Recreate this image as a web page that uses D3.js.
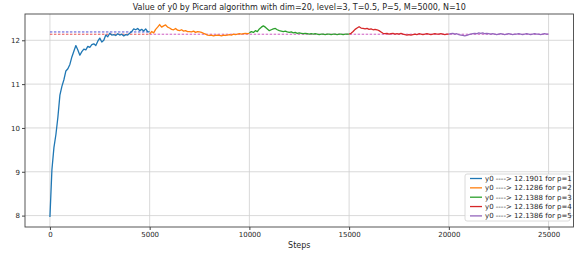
<!DOCTYPE html>
<html>
<head>
<meta charset="utf-8">
<script src="https://cdn.jsdelivr.net/npm/d3@7"></script>
<style>
  body { margin: 0; background: #fff; }
  text { font-family: "DejaVu Sans", sans-serif; fill: #262626; }
</style>
</head>
<body>
<div id="chart"></div>
<script>
// values, one reading every 100 steps
const STEP = 100;
const SEG = 5000;

const y_p1 = [7.97, 9.05, 9.55, 9.85, 10.25, 10.75, 10.95, 11.1, 11.3, 11.35,
  11.45, 11.62, 11.75, 11.88, 11.78, 11.66, 11.74, 11.80, 11.78, 11.86,
  11.84, 11.90, 11.92, 11.88, 11.98, 12.05, 11.96, 12.0, 12.12, 12.08,
  12.16, 12.12, 12.13, 12.11, 12.15, 12.12, 12.14, 12.10, 12.13, 12.12,
  12.16, 12.20, 12.26, 12.24, 12.27, 12.22, 12.25, 12.21, 12.26, 12.20, 12.19];
const y_p2 = [12.14, 12.20, 12.17, 12.25, 12.30, 12.36, 12.30, 12.33, 12.35, 12.30,
  12.28, 12.25, 12.24, 12.27, 12.23, 12.22, 12.24, 12.21, 12.22, 12.20,
  12.20, 12.19, 12.21, 12.18, 12.20, 12.19, 12.18, 12.16, 12.14, 12.12,
  12.11, 12.12, 12.10, 12.11, 12.12, 12.11, 12.10, 12.12, 12.11, 12.12,
  12.13, 12.12, 12.14, 12.13, 12.14, 12.15, 12.14, 12.15, 12.16, 12.15, 12.16];
const y_p3 = [12.17, 12.20, 12.18, 12.22, 12.20, 12.26, 12.30, 12.33, 12.30, 12.26,
  12.22, 12.24, 12.26, 12.27, 12.24, 12.22, 12.21, 12.20, 12.21, 12.19,
  12.18, 12.19, 12.17, 12.18, 12.16, 12.17, 12.16, 12.15, 12.16, 12.15,
  12.14, 12.15, 12.14, 12.15, 12.14, 12.13, 12.14, 12.14, 12.13, 12.14,
  12.14, 12.13, 12.14, 12.14, 12.13, 12.14, 12.14, 12.13, 12.14, 12.14, 12.14];
const y_p4 = [12.14, 12.16, 12.20, 12.25, 12.28, 12.31, 12.28, 12.27, 12.26, 12.27,
  12.25, 12.26, 12.24, 12.25, 12.24, 12.22, 12.19, 12.16, 12.15, 12.16,
  12.14, 12.15, 12.16, 12.14, 12.15, 12.14, 12.16, 12.14, 12.13, 12.12,
  12.13, 12.12, 12.13, 12.14, 12.13, 12.15, 12.14, 12.13, 12.14, 12.15,
  12.14, 12.13, 12.14, 12.15, 12.14, 12.14, 12.15, 12.14, 12.13, 12.14, 12.14];
const y_p5 = [12.14, 12.15, 12.16, 12.14, 12.15, 12.13, 12.12, 12.11, 12.10, 12.11,
  12.13, 12.14, 12.15, 12.16, 12.15, 12.17, 12.16, 12.17, 12.15, 12.16,
  12.15, 12.14, 12.15, 12.14, 12.13, 12.14, 12.15, 12.14, 12.13, 12.14,
  12.15, 12.14, 12.13, 12.14, 12.14, 12.15, 12.14, 12.13, 12.14, 12.15,
  12.14, 12.13, 12.14, 12.15, 12.14, 12.14, 12.13, 12.14, 12.15, 12.14, 12.14];

const series = [y_p1, y_p2, y_p3, y_p4, y_p5];
const limits = ["12.1901", "12.1286", "12.1388", "12.1386", "12.1386"];
const colors = ["#1f77b4", "#ff7f0e", "#2ca02c", "#d62728", "#9467bd"];

// dashed reference lines: [value, from step, to step, colour]
const refLines = [
  [12.1901, 0, 5000, "#2222cc"],
  [12.1386, 0, 5000, "#e02020"],
  [12.1386, 5000, 25000, "#c030b0"]
];

const xTicks = [0, 5000, 10000, 15000, 20000, 25000];
const yTicks = [8, 9, 10, 11, 12];

const W = 574, H = 255;
const m = {left: 25, right: 0.5, top: 14, bottom: 28};

const svg = d3.select("#chart").append("svg")
  .attr("width", W)
  .attr("height", H);

const x = d3.scaleLinear()
  .domain([-1250, 26250])
  .range([m.left, W - m.right]);
const y = d3.scaleLinear()
  .domain([7.74, 12.6])
  .range([H - m.bottom, m.top]);

// grid
svg.append("g").selectAll("line")
  .data(xTicks).enter().append("line")
  .attr("x1", d => x(d)).attr("x2", d => x(d))
  .attr("y1", m.top).attr("y2", H - m.bottom)
  .attr("stroke", "#cfcfcf").attr("stroke-width", 0.8);
svg.append("g").selectAll("line")
  .data(yTicks).enter().append("line")
  .attr("x1", m.left).attr("x2", W - m.right)
  .attr("y1", d => y(d)).attr("y2", d => y(d))
  .attr("stroke", "#cfcfcf").attr("stroke-width", 0.8);

// axes
const xAxis = svg.append("g")
  .attr("transform", "translate(0," + (H - m.bottom) + ")")
  .call(d3.axisBottom(x).tickValues(xTicks).tickSize(3).tickPadding(2).tickFormat(d3.format("d")));
const yAxis = svg.append("g")
  .attr("transform", "translate(" + m.left + ",0)")
  .call(d3.axisLeft(y).tickValues(yTicks).tickSize(3).tickPadding(2).tickFormat(d3.format("d")));
[xAxis, yAxis].forEach(a => {
  a.select(".domain").remove();
  a.selectAll("line").attr("stroke", "#444");
  a.selectAll("text").style("font-size", "7px").attr("fill", "#262626")
    .style("font-family", "DejaVu Sans, sans-serif");
});

// dashed lines
svg.append("g").selectAll("line")
  .data(refLines).enter().append("line")
  .attr("x1", d => x(d[1])).attr("x2", d => x(d[2]))
  .attr("y1", d => y(d[0])).attr("y2", d => y(d[0]))
  .attr("stroke", d => d[3])
  .attr("stroke-width", 0.8)
  .attr("stroke-dasharray", "2.5,1.5");

// series
const line = d3.line()
  .x(d => x(d.s))
  .y(d => y(d.v));

series.forEach((vals, p) => {
  const pts = vals.map((v, i) => ({s: p * SEG + i * STEP, v: v}));
  svg.append("path")
    .datum(pts)
    .attr("fill", "none")
    .attr("stroke", colors[p])
    .attr("stroke-width", 1.3)
    .attr("stroke-linejoin", "round")
    .attr("d", line);
});

// frame
svg.append("rect")
  .attr("x", m.left).attr("y", m.top)
  .attr("width", W - m.right - m.left).attr("height", H - m.bottom - m.top)
  .attr("fill", "none").attr("stroke", "#444").attr("stroke-width", 0.9);

// title and label
svg.append("text")
  .attr("x", (m.left + W - m.right) / 2).attr("y", 10)
  .attr("text-anchor", "middle")
  .style("font-size", "8px")
  .text("Value of y0 by Picard algorithm with dim=20, level=3, T=0.5, P=5, M=5000, N=10");
svg.append("text")
  .attr("x", (m.left + W - m.right) / 2).attr("y", 248)
  .attr("text-anchor", "middle")
  .style("font-size", "8px")
  .text("Steps");

// legend
const lg = svg.append("g").attr("transform", "translate(465,174)");
lg.append("rect")
  .attr("width", 105).attr("height", 47).attr("rx", 2)
  .attr("fill", "#fff").attr("fill-opacity", 0.85)
  .attr("stroke", "#d0d0d0").attr("stroke-width", 0.8);
const rows = lg.selectAll("g.row")
  .data(limits).enter().append("g")
  .attr("class", "row")
  .attr("transform", (d, i) => "translate(0," + (4.5 + i * 9.35) + ")");
rows.append("line")
  .attr("x1", 5).attr("x2", 17)
  .attr("stroke", (d, i) => colors[i]).attr("stroke-width", 1.3);
rows.append("text")
  .attr("x", 20).attr("dy", "0.35em")
  .style("font-size", "7px")
  .text((d, i) => "y0 ----> " + d + " for p=" + (i + 1));
</script>
</body>
</html>
